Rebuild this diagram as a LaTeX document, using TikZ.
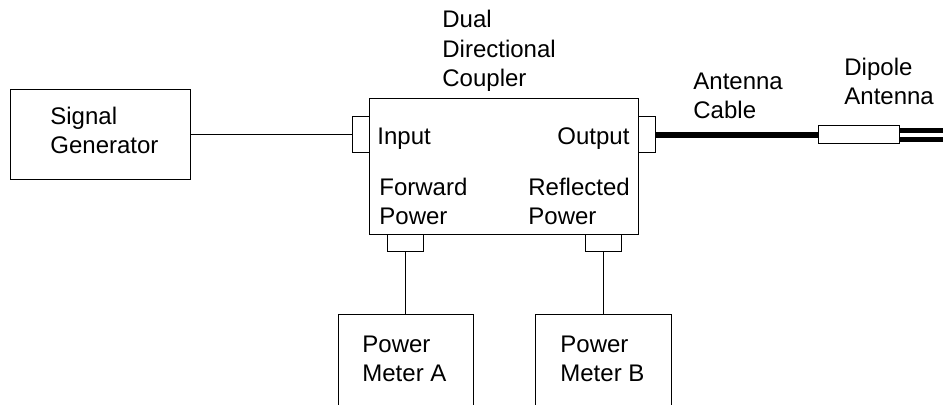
\documentclass[tikz,border=0pt]{standalone}
\usepackage{fontspec}
\setmainfont{Liberation Sans}
\usetikzlibrary{positioning}

\begin{document}
\begin{tikzpicture}[x=0.5pt, y=-0.5pt,
    box/.style={draw=black, line width=0.5pt, fill=white, inner sep=0pt},
    port/.style={draw=black, line width=0.5pt, fill=white, inner sep=0pt},
    lbl/.style={font=\fontsize{12}{14.75}\selectfont, align=left, inner sep=0pt, anchor=base west},
    wire/.style={draw=black, line width=0.5pt},
    cable/.style={draw=black, line width=3pt}]
      \clip (0, 0) rectangle (943, 405);

      % Signal generator (left)
      \node[box, minimum width=90pt, minimum height=45pt] (siggen) at (100, 135) {};
      \node[lbl] (siggenlbl) at (50, 154) {Signal\\Generator};

      % Coupler with its four ports
      \node[box, minimum width=134.5pt, minimum height=68pt] (coupler) at (503.5, 167) {};
      \node[port, minimum width=8.5pt, minimum height=18pt] (inport) at (360.5, 135) {};
      \node[port, minimum width=8.5pt, minimum height=18pt] (outport) at (646.5, 135) {};
      \node[port, minimum width=18pt, minimum height=8.5pt] (fwdport) at (405, 243.5) {};
      \node[port, minimum width=18pt, minimum height=8.5pt] (refport) at (603, 243.5) {};
      \node[lbl] (couplerlbl) at (442, 87) {Dual\\Directional\\Coupler};
      \node[lbl] (inlbl) at (377, 145) {Input};
      \node[lbl] (outlbl) at (557, 145) {Output};
      \node[lbl] (fwdlbl) at (379, 225) {Forward\\Power};
      \node[lbl] (reflbl) at (528, 225) {Reflected\\Power};

      % Power meters (bottom, cut off by the page)
      \foreach \mm/\xx/\ww in {A/405.5/67.5, B/603/68} {
        \node[box, minimum width=\ww pt, minimum height=55pt] (meter\mm) at (\xx, 370) {};
      }
      \node[lbl] (meterAlbl) at (362, 382) {Power\\Meter A};
      \node[lbl] (meterBlbl) at (560, 382) {Power\\Meter B};

      % Wires
      \draw[wire] (siggen.east) -- (inport.west);
      \draw[wire] (fwdport.south) -- (fwdport.south |- meterA.north);
      \draw[wire] (refport.south) -- (refport.south |- meterB.north);

      % Antenna cable and dipole (right)
      \node[box, minimum width=40.5pt, minimum height=9pt] (dipole) at (858.5, 135) {};
      \draw[cable] (outport.east) -- (dipole.west);
      \coordinate (armU) at (950, 131);
      \coordinate (armL) at (950, 140);
      \draw[draw=black, line width=2.5pt] (dipole.east |- armU) -- (armU);
      \draw[draw=black, line width=2.5pt] (dipole.east |- armL) -- (armL);
      \node[lbl] (cablelbl) at (693, 119) {Antenna\\Cable};
      \node[lbl] (dipolelbl) at (844, 105) {Dipole\\Antenna};
    \end{tikzpicture}
\end{document}
